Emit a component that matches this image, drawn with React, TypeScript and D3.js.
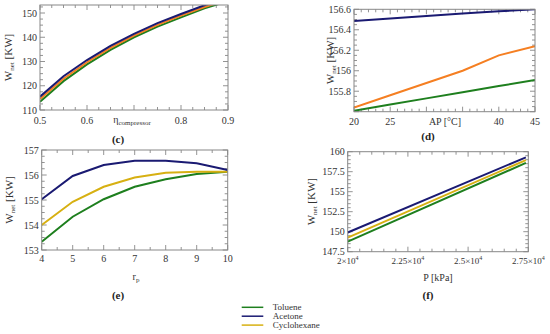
import React from "react";
import * as d3 from "d3";

// ---- Data ----
const seriesNames = ["Toluene", "Acetone", "Cyclohexane"];

// (c) W_net vs compressor efficiency
const etaValues = [0.5, 0.55, 0.6, 0.65, 0.7, 0.75, 0.8, 0.85, 0.9];
const cToluene = [113.4, 121.9, 128.8, 134.8, 140.0, 144.4, 148.2, 151.9, 154.9];
const cAcetone = [115.5, 123.9, 130.6, 136.4, 141.4, 145.8, 149.6, 153.2, 156.2];
const cCyclohexane = [114.5, 122.9, 129.7, 135.6, 140.7, 145.1, 148.9, 152.5, 155.5];

// (d) W_net vs AP
const apValues = [20, 25, 30, 35, 40, 45];
const dToluene = [155.61, 155.67, 155.73, 155.79, 155.85, 155.91];
const dAcetone = [156.486, 156.51, 156.535, 156.56, 156.58, 156.6];
const dCyclohexane = [155.64, 155.76, 155.88, 156.0, 156.15, 156.24];

// (e) W_net vs pressure ratio
const rpValues = [4, 5, 6, 7, 8, 9, 10];
const eToluene = [153.33, 154.33, 155.03, 155.53, 155.83, 156.04, 156.13];
const eAcetone = [155.03, 155.96, 156.4, 156.57, 156.57, 156.47, 156.2];
const eCyclohexane = [154.0, 154.93, 155.53, 155.9, 156.09, 156.13, 156.13];

// (f) W_net vs P
const pValues = [20000, 27400];
const fToluene = [148.75, 158.6];
const fAcetone = [149.9, 159.3];
const fCyclohexane = [149.25, 158.95];

// tick labels
const cXTicks = [0.5, 0.6, 0.8, 0.9];
const cYTicks = [110, 120, 130, 140, 150];
const dXTicks = [20, 25, 40, 45];
const dYTicks = [155.8, 156, 156.2, 156.4, 156.6];
const eXTicks = [4, 5, 6, 7, 8, 9, 10];
const eYTicks = [153, 154, 155, 156, 157];
const fXTicks = [20000, 22500, 25000, 27500];
const fXTickMant = ["2", "2.25", "2.5", "2.75"];
const fYTicks = [147.5, 150, 152.5, 155, 157.5, 160];

const FONT = "'Liberation Serif', 'DejaVu Serif', 'Times New Roman', serif";
const GREEN = "#1e7f1e";
const NAVY = "#1a1a72";
const ORANGE = "#f57f22";
const GOLD = "#d7b012";

type Series = { y: number[]; color: string };

type PanelProps = {
  id: string;
  left: number; right: number; top: number; bottom: number;
  xDomain: [number, number]; yDomain: [number, number];
  xs: number[]; series: Series[];
  xTicks: number[]; xLabels: React.ReactNode[]; xMinor: number; xMajor: number;
  xLabelSize?: number;
  yTicks: number[]; yMinor: number; yMajor: number;
  xTitle: React.ReactNode; xTitleX: number; xTitleY: number;
  yTitleX: number; title: string; titleX: number; titleY: number;
  xLabelY: number;
};

function range(a: number, b: number, step: number): number[] {
  const out: number[] = [];
  const n = Math.round((b - a) / step);
  for (let i = 0; i <= n; i++) out.push(a + i * step);
  return out;
}

function Panel(p: PanelProps) {
  const x = d3.scaleLinear().domain(p.xDomain).range([p.left, p.right]);
  const y = d3.scaleLinear().domain(p.yDomain).range([p.bottom, p.top]);
  const line = (ys: number[]) =>
    d3.line<number>().x((_, i) => x(p.xs[i])).y((v) => y(v))(ys) || "";
  const xMin = range(p.xDomain[0], p.xDomain[1], p.xMinor);
  const yMin = range(p.yDomain[0], p.yDomain[1], p.yMinor);
  const isMajor = (v: number, base: number, step: number) =>
    Math.abs((v - base) / step - Math.round((v - base) / step)) < 1e-6;
  const tickCol = "#777";
  const clipId = "clip-" + p.id;
  return (
    <g>
      <defs>
        <clipPath id={clipId}>
          <rect x={p.left} y={p.top} width={p.right - p.left} height={p.bottom - p.top} />
        </clipPath>
      </defs>
      {xMin.map((v, i) => {
        const L = isMajor(v, p.xDomain[0], p.xMajor) ? 5 : 3;
        const xx = x(v);
        return (
          <g key={"xm" + i} stroke={tickCol} strokeWidth={0.8}>
            <line x1={xx} x2={xx} y1={p.bottom} y2={p.bottom - L} />
            <line x1={xx} x2={xx} y1={p.top} y2={p.top + L} />
          </g>
        );
      })}
      {yMin.map((v, i) => {
        const L = isMajor(v, p.yTicks[0], p.yMajor) ? 5 : 3;
        const yy = y(v);
        return (
          <g key={"ym" + i} stroke={tickCol} strokeWidth={0.8}>
            <line x1={p.left} x2={p.left + L} y1={yy} y2={yy} />
            <line x1={p.right} x2={p.right - L} y1={yy} y2={yy} />
          </g>
        );
      })}
      <g clipPath={`url(#${clipId})`}>
        {p.series.map((s, i) => (
          <path key={i} d={line(s.y)} fill="none" stroke={s.color} strokeWidth={2} />
        ))}
      </g>
      <rect x={p.left} y={p.top} width={p.right - p.left} height={p.bottom - p.top}
        fill="none" stroke="#888" strokeWidth={1} />
      {p.xTicks.map((v, i) => (
        <text key={"xl" + i} x={x(v)} y={p.xLabelY} textAnchor="middle"
          fontFamily={FONT} fontSize={p.xLabelSize ?? 10} fill="#333">{p.xLabels[i]}</text>
      ))}
      {p.yTicks.map((v, i) => (
        <text key={"yl" + i} x={p.left - 3} y={y(v) + 3.5} textAnchor="end"
          fontFamily={FONT} fontSize={10} fill="#333">{String(v)}</text>
      ))}
      <text x={p.xTitleX} y={p.xTitleY} textAnchor="middle" fontFamily={FONT}
        fontSize={10} fill="#333">{p.xTitle}</text>
      <text transform={`translate(${p.yTitleX},${(p.top + p.bottom) / 2}) rotate(-90)`}
        textAnchor="middle" fontFamily={FONT} fontSize={11} fill="#333">
        W<tspan fontSize={7} dy={2}>net</tspan><tspan dy={-2}> [KW]</tspan>
      </text>
      <text x={p.titleX} y={p.titleY} textAnchor="middle" fontFamily={FONT}
        fontSize={11} fontWeight="bold" fill="#222">{p.title}</text>
    </g>
  );
}

export default function App() {
  return (
    <svg width={550} height={334} style={{ position: "absolute", left: 0, top: 0, background: "#fff" }}>
      <Panel id="c" left={40} right={228} top={5} bottom={110}
        xDomain={[0.5, 0.9]} yDomain={[110, 153.3]} xs={etaValues}
        series={[{ y: cToluene, color: GREEN }, { y: cCyclohexane, color: ORANGE }, { y: cAcetone, color: NAVY }]}
        xTicks={cXTicks} xLabels={cXTicks.map(String)} xMinor={0.025} xMajor={0.1}
        yTicks={cYTicks} yMinor={2.5} yMajor={10}
        xTitle={<>η<tspan fontSize={7} dy={2}>compressor</tspan></>} xTitleX={132} xTitleY={123}
        xLabelY={124} yTitleX={12} title="(c)" titleX={118} titleY={143} />
      <Panel id="d" left={354} right={535} top={9.3} bottom={111.7}
        xDomain={[20, 45]} yDomain={[155.6, 156.6]} xs={apValues}
        series={[{ y: dToluene, color: GREEN }, { y: dCyclohexane, color: ORANGE }, { y: dAcetone, color: NAVY }]}
        xTicks={dXTicks} xLabels={dXTicks.map(String)} xMinor={1} xMajor={5}
        yTicks={dYTicks} yMinor={0.05} yMajor={0.2}
        xTitle={"AP [°C]"} xTitleX={445} xTitleY={125}
        xLabelY={125} yTitleX={334} title="(d)" titleX={428} titleY={140} />
      <Panel id="e" left={41.7} right={227.7} top={150} bottom={250}
        xDomain={[4, 10]} yDomain={[153, 157]} xs={rpValues}
        series={[{ y: eToluene, color: GREEN }, { y: eCyclohexane, color: GOLD }, { y: eAcetone, color: NAVY }]}
        xTicks={eXTicks} xLabels={eXTicks.map(String)} xMinor={0.5} xMajor={1}
        yTicks={eYTicks} yMinor={0.25} yMajor={1}
        xTitle={<>r<tspan fontSize={7} dy={2}>p</tspan></>} xTitleX={136} xTitleY={280}
        xLabelY={262} yTitleX={13} title="(e)" titleX={118} titleY={299} />
      <Panel id="f" left={347.7} right={528.3} top={151.7} bottom={251.7}
        xDomain={[20000, 27500]} yDomain={[147.5, 160]} xs={pValues}
        series={[{ y: fToluene, color: GREEN }, { y: fCyclohexane, color: GOLD }, { y: fAcetone, color: NAVY }]}
        xTicks={fXTicks} xLabelSize={9}
        xLabels={fXTickMant.map((m) => (<>{m}×10<tspan fontSize={6} dy={-4}>4</tspan></>))}
        xMinor={500} xMajor={2500}
        yTicks={fYTicks} yMinor={0.5} yMajor={2.5}
        xTitle={"P [kPa]"} xTitleX={438} xTitleY={281}
        xLabelY={264} yTitleX={315} title="(f)" titleX={428} titleY={299} />
      {seriesNames.map((name, i) => {
        const col = [GREEN, NAVY, GOLD][i];
        const yy = 307.3 + i * 8.9;
        return (
          <g key={name}>
            <line x1={241.7} x2={263.3} y1={yy} y2={yy} stroke={col} strokeWidth={1.5} />
            <text x={272.7} y={yy + 3} fontFamily={FONT} fontSize={9} fill="#333">{name}</text>
          </g>
        );
      })}
    </svg>
  );
}
